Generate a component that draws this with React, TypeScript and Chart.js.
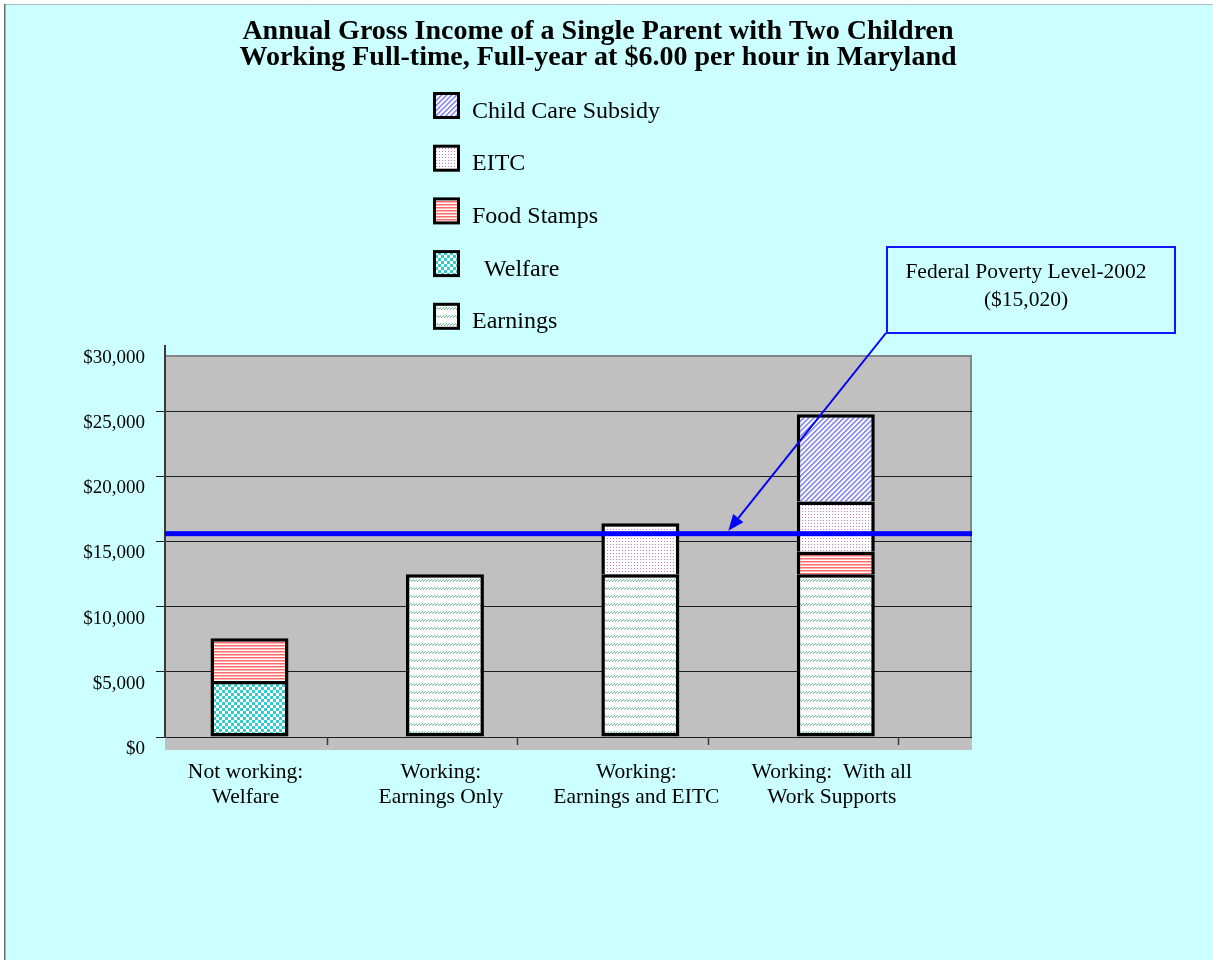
import React, { useEffect, useRef } from "react";
import { Chart, registerables } from "chart.js";

Chart.register(...registerables);

// ---------- data ----------
const TITLE_LINES = [
  "Annual Gross Income of a Single Parent with Two Children",
  "Working Full-time, Full-year at $6.00 per hour in Maryland",
];
const CATEGORIES: string[][] = [
  ["Not working:", "Welfare"],
  ["Working:", "Earnings Only"],
  ["Working:", "Earnings and EITC"],
  ["Working:  With all", "Work Supports"],
];
const EARNINGS = [null, 12480, 12480, 12480];
const WELFARE = [4300, null, null, null];
const FOOD_STAMPS = [3270, null, null, 1740];
const EITC = [null, null, 3920, 3840];
const CHILD_CARE = [null, null, null, 6700];
const SERIES_LABELS = ["Earnings", "  Welfare", "Food Stamps", "EITC", "Child Care Subsidy"];
const POVERTY_LINE = 15600;
const POVERTY_TEXT = ["Federal Poverty Level-2002", "($15,020)"];
const Y_MIN = 0;
const Y_MAX = 30000;
const Y_STEP = 5000;
const X_MIN = -0.4324;
const X_MAX = 3.697;

const SERIF = '"Liberation Serif", "Times New Roman", serif';

type Painter = (c: CanvasRenderingContext2D) => void;
function makePattern(w: number, h: number, paint: Painter): CanvasPattern | string {
  const cv = document.createElement("canvas");
  cv.width = w;
  cv.height = h;
  const c = cv.getContext("2d");
  if (!c) return "#fff";
  c.fillStyle = "#ffffff";
  c.fillRect(0, 0, w, h);
  paint(c);
  return c.createPattern(cv, "repeat") || "#fff";
}

function buildPatterns() {
  const earnings = makePattern(3, 8, (c) => {
    c.fillStyle = "#7cc09e";
    c.fillRect(0, 5, 1, 1);
    c.fillRect(1, 4, 1, 1);
    c.fillRect(2, 3, 1, 1);
    c.fillStyle = "#cbe6d8";
    c.fillRect(0, 4, 1, 1);
    c.fillRect(2, 4, 1, 1);
  });
  const welfare = makePattern(6, 6, (c) => {
    c.fillStyle = "#33cccc";
    c.fillRect(0, 0, 3, 3);
    c.fillRect(3, 3, 3, 3);
  });
  const food = makePattern(1, 3, (c) => {
    c.fillStyle = "#ff6b6b";
    c.fillRect(0, 0, 1, 1);
    c.fillStyle = "#ffb4b4";
    c.fillRect(0, 1, 1, 1);
  });
  const eitc = makePattern(3, 3, (c) => {
    c.fillStyle = "#d47fae";
    c.fillRect(1, 1, 1, 1);
  });
  const child = makePattern(5, 5, (c) => {
    for (let x = 0; x < 5; x++) {
      for (let y = 0; y < 5; y++) {
        const m = (x + y) % 5;
        if (m === 0 || m === 1) {
          c.fillStyle = "#9090f2";
          c.fillRect(x, y, 1, 1);
        } else if (m === 2) {
          c.fillStyle = "#d0d0fa";
          c.fillRect(x, y, 1, 1);
        }
      }
    }
  });
  return [earnings, welfare, food, eitc, child];
}

const fmtMoney = (v: number) => "$" + String(Math.round(v)).replace(/\B(?=(\d{3})+(?!\d))/g, ",");

const decorPlugin = {
  id: "decor",
  beforeDraw(chart: any) {
    const { ctx, chartArea: a, width, height } = chart;
    ctx.save();
    ctx.fillStyle = "#ffffff";
    ctx.fillRect(0, 0, width, height);
    ctx.fillStyle = "#CCFFFF";
    ctx.fillRect(4, 4, width - 4, height - 4);
    ctx.strokeStyle = "#a3bfc6";
    ctx.lineWidth = 1;
    ctx.beginPath();
    ctx.moveTo(4, 4.5);
    ctx.lineTo(width, 4.5);
    ctx.stroke();
    ctx.strokeStyle = "#6a6a6a";
    ctx.lineWidth = 1.5;
    ctx.beginPath();
    ctx.moveTo(4.75, 4);
    ctx.lineTo(4.75, height);
    ctx.stroke();

    // plot wall + floor
    const wallTop = a.top + 9;
    const wallBottom = a.bottom + 13;
    ctx.fillStyle = "#C0C0C0";
    ctx.fillRect(a.left, wallTop, a.right - a.left, wallBottom - wallTop);
    ctx.fillStyle = "#858585";
    ctx.fillRect(a.left, wallTop, a.right - a.left, 2);
    ctx.fillRect(a.right - 2, wallTop, 2, a.bottom - wallTop);

    // title
    ctx.fillStyle = "#000";
    ctx.textAlign = "center";
    ctx.textBaseline = "alphabetic";
    ctx.font = `bold 28px ${SERIF}`;
    ctx.fillText(TITLE_LINES[0], 598, 39);
    ctx.fillText(TITLE_LINES[1], 598, 65);

    // legend (reverse order, vertical)
    const ds = chart.data.datasets;
    ctx.font = `24px ${SERIF}`;
    ctx.textAlign = "left";
    for (let k = 0; k < ds.length; k++) {
      const d = ds[ds.length - 1 - k];
      const cy = 105.5 + 52.7 * k;
      ctx.fillStyle = d.backgroundColor;
      ctx.fillRect(434.5, cy - 12, 24, 24);
      ctx.strokeStyle = "#000";
      ctx.lineWidth = 3;
      ctx.strokeRect(434.5, cy - 12, 24, 24);
      ctx.fillStyle = "#000";
      ctx.fillText(d.label, 472, cy + 12);
    }
    ctx.restore();
  },
  afterDatasetsDraw(chart: any) {
    const { ctx, chartArea: a, scales } = chart;
    const xs = scales.x;
    const ys = scales.y;
    ctx.save();
    // category boundary tick marks
    ctx.strokeStyle = "#3a3a3a";
    ctx.lineWidth = 1.5;
    for (let i = 0; i < CATEGORIES.length; i++) {
      const px = Math.round(xs.getPixelForValue(0.395 + 0.975 * i)) + 0.5;
      ctx.beginPath();
      ctx.moveTo(px, a.bottom);
      ctx.lineTo(px, a.bottom + 8);
      ctx.stroke();
    }
    // poverty line
    const py = ys.getPixelForValue(POVERTY_LINE);
    ctx.fillStyle = "#0000FF";
    ctx.fillRect(a.left, py - 2.5, a.right - a.left, 5);

    // callout box
    const bx = 887, by = 247, bw = 288, bh = 86;
    ctx.strokeStyle = "#1414ff";
    ctx.lineWidth = 2;
    ctx.strokeRect(bx, by, bw, bh);
    ctx.fillStyle = "#000";
    ctx.font = `21.5px ${SERIF}`;
    ctx.textAlign = "center";
    ctx.fillText(POVERTY_TEXT[0], 1026, 278);
    ctx.fillText(POVERTY_TEXT[1], 1026, 306);

    // arrow
    const sx = bx - 1, sy = by + bh;
    const tx = xs.getPixelForValue(2.45), ty = py - 3;
    const ang = Math.atan2(ty - sy, tx - sx);
    const L = 16, W = 6.5;
    const bxp = tx - L * Math.cos(ang), byp = ty - L * Math.sin(ang);
    ctx.strokeStyle = "#0000FF";
    ctx.lineWidth = 2;
    ctx.beginPath();
    ctx.moveTo(sx, sy);
    ctx.lineTo(bxp, byp);
    ctx.stroke();
    ctx.fillStyle = "#0000FF";
    ctx.beginPath();
    ctx.moveTo(tx, ty);
    ctx.lineTo(bxp + W * Math.sin(ang), byp - W * Math.cos(ang));
    ctx.lineTo(bxp - W * Math.sin(ang), byp + W * Math.cos(ang));
    ctx.closePath();
    ctx.fill();
    ctx.restore();
  },
};

export default function App() {
  const ref = useRef<HTMLCanvasElement | null>(null);
  useEffect(() => {
    const canvas = ref.current;
    if (!canvas) return;
    const patterns = buildPatterns();
    const seriesValues = [EARNINGS, WELFARE, FOOD_STAMPS, EITC, CHILD_CARE];
    const isBottom = (d: number, i: number) =>
      seriesValues.slice(0, d).every((s) => !s[i]);
    const chart = new Chart(canvas, {
      type: "bar",
      data: {
        datasets: seriesValues.map((vals, d) => ({
          label: SERIES_LABELS[d],
          data: vals.map((v, i) => ({ x: i, y: v })),
          backgroundColor: patterns[d],
          borderColor: "#000000",
          borderWidth: 3.5,
          borderSkipped: (c: any) => (isBottom(c.datasetIndex, c.dataIndex) ? false : "start"),
          barThickness: 78,
          inflateAmount: 0,
          stack: "income",
        })) as any,
      },
      options: {
        responsive: false,
        animation: false,
        devicePixelRatio: 1,
        events: [],
        layout: { padding: { top: 346, right: 241, bottom: 0, left: 0 } },
        plugins: {
          legend: { display: false },
          title: { display: false },
          tooltip: { enabled: false },
        },
        scales: {
          x: {
            type: "linear",
            min: X_MIN,
            max: X_MAX,
            stacked: true,
            offset: false,
            grid: { display: false, drawTicks: false },
            border: { display: false },
            afterBuildTicks: (ax: any) => {
              ax.ticks = CATEGORIES.map((_, i) => ({ value: i }));
            },
            afterFit: (ax: any) => {
              ax.height = 223;
            },
            ticks: {
              callback: (_v: any, i: number) => CATEGORIES[i],
              font: { family: SERIF, size: 21.5, lineHeight: 1.2 },
              color: "#000",
              padding: 22,
              maxRotation: 0,
              autoSkip: false,
              labelOffset: -4,
            },
          },
          y: {
            type: "linear",
            min: Y_MIN,
            max: Y_MAX,
            stacked: true,
            afterFit: (ax: any) => {
              ax.width = 165;
            },
            ticks: {
              stepSize: Y_STEP,
              callback: (v: any) => fmtMoney(Number(v)),
              font: { family: SERIF, size: 19 },
              color: "#000",
              padding: 11,
              labelOffset: 12,
            },
            grid: {
              color: (c: any) => (c.tick && c.tick.value === Y_MAX ? "rgba(0,0,0,0)" : "#1e1e1e"),
              lineWidth: 1,
              tickLength: 9,
            },
            border: { color: "#3a3a3a", width: 2 },
          },
        },
      } as any,
      plugins: [decorPlugin],
    });
    return () => chart.destroy();
  }, []);
  return (
    <div style={{ position: "absolute", left: 0, top: 0, width: 1213, height: 960 }}>
      <canvas ref={ref} width={1213} height={960} style={{ display: "block", width: 1213, height: 960 }} />
    </div>
  );
}
